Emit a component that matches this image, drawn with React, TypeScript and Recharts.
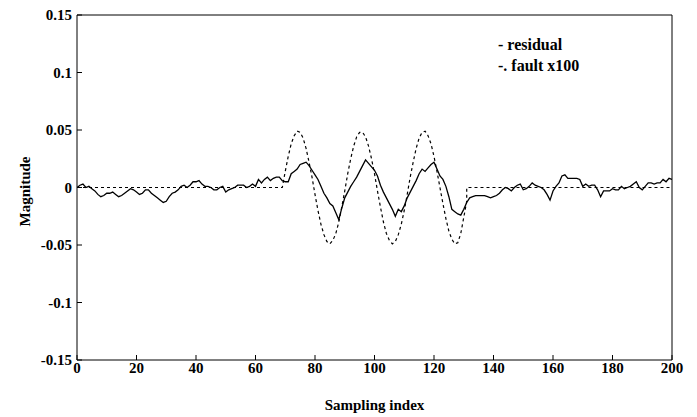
import { LineChart, Line, XAxis, YAxis } from "recharts"

const FONT = "'Liberation Serif', 'DejaVu Serif', serif"

const xTicks = [0, 20, 40, 60, 80, 100, 120, 140, 160, 180, 200]
const yTicks = [-0.15, -0.1, -0.05, 0, 0.05, 0.1, 0.15]

// residual, one value per sample 0..200
const residual = [
  0.000, 0.002, 0.003, 0.000, 0.001, -0.001, -0.003, -0.006, -0.008, -0.007,
  -0.005, -0.005, -0.004, -0.006, -0.008, -0.007, -0.005, -0.003, -0.001, -0.002,
  -0.004, -0.006, -0.005, -0.002, -0.002, -0.005, -0.007, -0.009, -0.011, -0.013,
  -0.012, -0.008, -0.005, -0.004, -0.002, 0.001, 0.002, 0.000, 0.002, 0.005,
  0.005, 0.006, 0.003, 0.001, 0.001, 0.000, -0.002, -0.002, 0.000, 0.001,
  -0.004, -0.002, -0.001, 0.000, 0.002, 0.002, 0.002, 0.000, 0.001, 0.003,
  0.001, 0.007, 0.004, 0.007, 0.009, 0.006, 0.008, 0.009, 0.009, 0.006,
  0.005, 0.005, 0.012, 0.014, 0.016, 0.020, 0.021, 0.022, 0.019, 0.015,
  0.011, 0.007, 0.001, -0.005, -0.009, -0.014, -0.016, -0.022, -0.028, -0.018,
  -0.009, -0.004, 0.001, 0.005, 0.009, 0.014, 0.019, 0.024, 0.021, 0.018,
  0.015, 0.010, 0.002, -0.004, -0.009, -0.014, -0.019, -0.025, -0.019, -0.021,
  -0.016, -0.009, -0.004, 0.001, 0.006, 0.012, 0.016, 0.014, 0.017, 0.020,
  0.022, 0.016, 0.010, 0.007, 0.001, -0.008, -0.019, -0.021, -0.023, -0.024,
  -0.019, -0.013, -0.009, -0.008, -0.007, -0.007, -0.007, -0.007, -0.008, -0.009,
  -0.008, -0.007, -0.005, -0.002, 0.000, -0.001, -0.003, 0.000, 0.002, 0.003,
  -0.002, -0.001, 0.001, 0.004, 0.002, 0.001, 0.000, -0.002, -0.006, -0.011,
  -0.003, 0.001, 0.004, 0.010, 0.011, 0.008, 0.008, 0.008, 0.008, 0.007,
  0.001, 0.003, 0.001, 0.002, 0.002, -0.002, -0.008, -0.003, -0.003, -0.003,
  -0.001, -0.002, -0.002, 0.001, -0.001, 0.000, 0.001, 0.003, 0.005, 0.000,
  -0.002, 0.001, 0.004, 0.004, 0.003, 0.004, 0.004, 0.007, 0.005, 0.008,
  0.007,
]

// fault x100: flat zero, three oscillations, flat zero
const faultX = [
  0, 69,
  70, 71, 72, 73, 74, 75, 76, 77, 78, 79,
  80, 81, 82, 83, 84, 85, 86, 87, 88, 89,
  90, 91, 92, 93, 94, 95, 96, 97, 98, 99,
  100, 101, 102, 103, 104, 105, 106, 107, 108, 109,
  110, 111, 112, 113, 114, 115, 116, 117, 118, 119,
  120, 121, 122, 123, 124, 125, 126, 127, 128, 129,
  130, 131, 131, 200,
]
const faultY = [
  0, 0,
  0.014, 0.027, 0.038, 0.045, 0.049, 0.048, 0.043, 0.034, 0.022, 0.009,
  -0.006, -0.020, -0.032, -0.041, -0.047, -0.049, -0.046, -0.040, -0.030, -0.017,
  -0.003, 0.012, 0.025, 0.036, 0.044, 0.048, 0.048, 0.044, 0.036, 0.025,
  0.012, -0.003, -0.017, -0.030, -0.040, -0.046, -0.049, -0.047, -0.041, -0.032,
  -0.020, -0.006, 0.009, 0.022, 0.034, 0.043, 0.048, 0.049, 0.045, 0.038,
  0.027, 0.014, 0.000, -0.014, -0.027, -0.038, -0.045, -0.049, -0.048, -0.040,
  -0.026, -0.012, 0, 0,
]

const residualData = residual.map((y, i) => ({ x: i, y }))
const faultData = faultX.map((x, i) => ({ x, y: faultY[i] }))

const tickFont = { fill: "#000", fontSize: 15, fontWeight: 700, fontFamily: FONT }

function YTitle({ viewBox }: any) {
  const cx = viewBox.x + 25
  const cy = viewBox.y + viewBox.height / 2 + 4
  return (
    <text
      x={cx}
      y={cy}
      transform={`rotate(-90 ${cx} ${cy})`}
      textAnchor="middle"
      dominantBaseline="central"
      fill="#000"
      fontSize={15}
      fontWeight={700}
      fontFamily={FONT}
    >
      Magnitude
    </text>
  )
}

export default function App() {
  return (
    <div
      style={{
        position: "absolute",
        left: 0,
        top: 0,
        width: 697,
        height: 417,
        background: "#fff",
        fontFamily: FONT,
      }}
    >
      <LineChart
        width={697}
        height={417}
        margin={{ top: 14, right: 24, bottom: 0, left: 0 }}
      >
        <XAxis
          xAxisId="b"
          type="number"
          dataKey="x"
          domain={[0, 200]}
          ticks={xTicks}
          interval={0}
          allowDataOverflow
          height={57}
          tickSize={-5}
          tickMargin={7}
          axisLine={{ stroke: "#000" }}
          tickLine={{ stroke: "#000" }}
          tick={tickFont}
          label={{
            value: "Sampling index",
            position: "insideBottom",
            offset: 7,
            fill: "#000",
            fontSize: 15,
            fontWeight: 700,
            fontFamily: FONT,
          }}
        />
        <XAxis
          xAxisId="t"
          orientation="top"
          type="number"
          dataKey="x"
          domain={[0, 200]}
          ticks={xTicks}
          interval={0}
          allowDataOverflow
          height={1}
          tickSize={-5}
          axisLine={{ stroke: "#000" }}
          tickLine={{ stroke: "#000" }}
          tick={false}
        />
        <YAxis
          yAxisId="l"
          type="number"
          domain={[-0.15, 0.15]}
          ticks={yTicks}
          interval={0}
          allowDataOverflow
          width={77}
          tickSize={-5}
          tickMargin={10}
          axisLine={{ stroke: "#000" }}
          tickLine={{ stroke: "#000" }}
          tick={tickFont}
          label={<YTitle />}
        />
        <YAxis
          yAxisId="r"
          orientation="right"
          type="number"
          domain={[-0.15, 0.15]}
          ticks={yTicks}
          interval={0}
          allowDataOverflow
          width={1}
          tickSize={-5}
          axisLine={{ stroke: "#000" }}
          tickLine={{ stroke: "#000" }}
          tick={false}
        />
        <Line
          xAxisId="t"
          yAxisId="r"
          data={faultData}
          dataKey="y"
          type="linear"
          stroke="#000"
          strokeWidth={1.2}
          strokeDasharray="3 3"
          dot={false}
          isAnimationActive={false}
        />
        <Line
          xAxisId="b"
          yAxisId="l"
          data={residualData}
          dataKey="y"
          type="linear"
          stroke="#000"
          strokeWidth={1.3}
          dot={false}
          isAnimationActive={false}
        />
      </LineChart>
      <div
        style={{
          position: "absolute",
          left: 498,
          top: 34,
          fontSize: 16,
          fontWeight: 700,
          lineHeight: "21px",
          color: "#000",
          whiteSpace: "pre",
        }}
      >
        <div>- residual</div>
        <div>-. fault x100</div>
      </div>
    </div>
  )
}
